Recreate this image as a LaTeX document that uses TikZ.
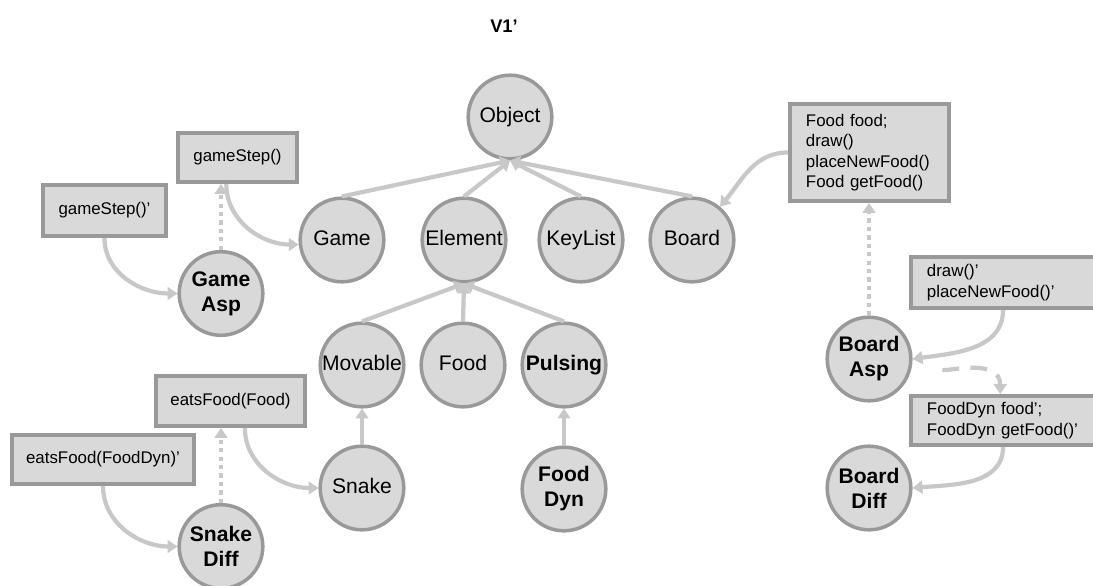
\documentclass[tikz,border=0pt]{standalone}
\usepackage{fontspec}
\setmainfont{Liberation Sans}
\usepackage{xcolor}
\definecolor{shade1}{HTML}{D9D9D9}
\definecolor{rim1}{HTML}{999999}
\definecolor{link1}{HTML}{C8C8C8}
\usepackage{tikz}
\usetikzlibrary{arrows.meta}

\begin{document}
\begin{tikzpicture}[x=0.025cm, y=-0.025cm,
    classnode/.style={circle, fill=shade1, draw=rim1, line width=2.5pt,
                minimum size=2.09cm, inner sep=0pt, align=center},
    cls/.style={classnode, text height=11pt, text depth=3pt,
                font=\fontsize{15}{18}\selectfont},
    asp/.style={classnode, font=\bfseries\fontsize{15}{17.8}\selectfont},
    memb/.style={rectangle, fill=shade1, draw=rim1, line width=2.8pt,
                 inner sep=0pt, font=\fontsize{12}{14.6}\selectfont},
    membl/.style={memb, align=left, inner xsep=0.4cm},
    inherit/.style={draw=link1, line width=3pt,
                    -{Triangle[length=7pt,width=9pt]}},
    refine/.style={inherit, dash pattern=on 3pt off 3pt},
    dynref/.style={inherit, dash pattern=on 12pt off 8pt}]
  \clip (0,0) rectangle (1093,586);
  \node[font=\bfseries\fontsize{13}{15}\selectfont] (title) at (504,26) {V1’};

  % class hierarchy
  \node[cls] (object) at (510,117) {Object};
  \node[cls] (game) at (342,240) {Game};
  \node[cls] (element) at (464,240) {Element};
  \node[cls] (keylist) at (581,240) {KeyList};
  \node[cls] (board) at (692,240) {Board};
  \node[cls] (movable) at (362,365) {Movable};
  \node[cls] (food) at (463,365) {Food};
  \node[cls, font=\bfseries\fontsize{15}{18}\selectfont] (pulsing) at (564,365) {Pulsing};
  \node[cls] (snake) at (362,488) {Snake};
  \node[asp] (fooddyn) at (564,489) {Food\\Dyn};
  \draw[inherit] (game.north) -- (object.south);
  \draw[inherit] (element.north) -- (object.south);
  \draw[inherit] (keylist.north) -- (object.south);
  \draw[inherit] (board.north) -- (object.south);
  \draw[inherit] (movable.north) -- (element.south);
  \draw[inherit] (food.north) -- (element.south);
  \draw[inherit] (pulsing.north) -- (element.south);
  \draw[inherit] (snake.north) -- (movable.south);
  \draw[inherit] (fooddyn.north) -- (pulsing.south);

  % game aspect
  \node[memb, minimum width=2.975cm, minimum height=1.225cm] (gstep) at (237.5,157.5) {gameStep()};
  \node[memb, minimum width=3.075cm, minimum height=1.275cm] (gstepp) at (104.5,210.5) {gameStep()’};
  \node[asp] (gameasp) at (221,293.5) {Game\\Asp};
  \draw[inherit] ([xshift=-0.28cm]gstep.south) to[out=-90, in=180] (game.186);
  \draw[refine] (gameasp.north) -- (gameasp.north |- gstep.south);
  \draw[inherit] (gstepp.south) to[out=-90, in=180] (gameasp.west);

  % snake difference
  \node[memb, minimum width=3.725cm, minimum height=1.25cm] (eats) at (230.5,401) {eatsFood(Food)};
  \node[memb, minimum width=4.55cm, minimum height=1.225cm] (eatsp) at (103,459.5) {eatsFood(FoodDyn)’};
  \node[asp] (snakediff) at (221,546.5) {Snake\\Diff};
  \draw[inherit] ([xshift=0.36cm]eats.south) to[out=-90, in=180] (snake.west);
  \draw[refine] (snakediff.north) -- (snakediff.north |- eats.south);
  \draw[inherit] (eatsp.south) to[out=-90, in=180] (snakediff.west);

  % board aspect and difference
  \node[membl, text width=3.175cm, minimum height=2.425cm] (fbox) at (869.5,152.5)
    {Food food;\\draw()\\placeNewFood()\\Food getFood()};
  \node[membl, text width=4.475cm, minimum height=1.275cm, anchor=west] (dbox) at (909,282.5)
    {draw()’\\placeNewFood()’};
  \node[membl, text width=4.475cm, minimum height=1.225cm, anchor=west] (fdbox) at (909,420.5)
    {FoodDyn food’;\\FoodDyn getFood()’};
  \node[asp] (boardasp) at (869,359) {Board\\Asp};
  \node[asp] (boarddiff) at (869,488) {Board\\Diff};
  \draw[inherit] (fbox.west) to[out=180, in=50] (board.50);
  \draw[refine] (boardasp.north) -- (boardasp.north |- fbox.south);
  \draw[inherit] ([xshift=2.35cm]dbox.south west) to[out=-90, in=8] (boardasp.east);
  \draw[dynref, shorten <=22pt] (boardasp.-4) to[out=-15, in=90] ([xshift=2.28cm]fdbox.north west);
  \draw[inherit] ([xshift=2.35cm]fdbox.south west) to[out=-90, in=5] (boarddiff.east);
\end{tikzpicture}
\end{document}
